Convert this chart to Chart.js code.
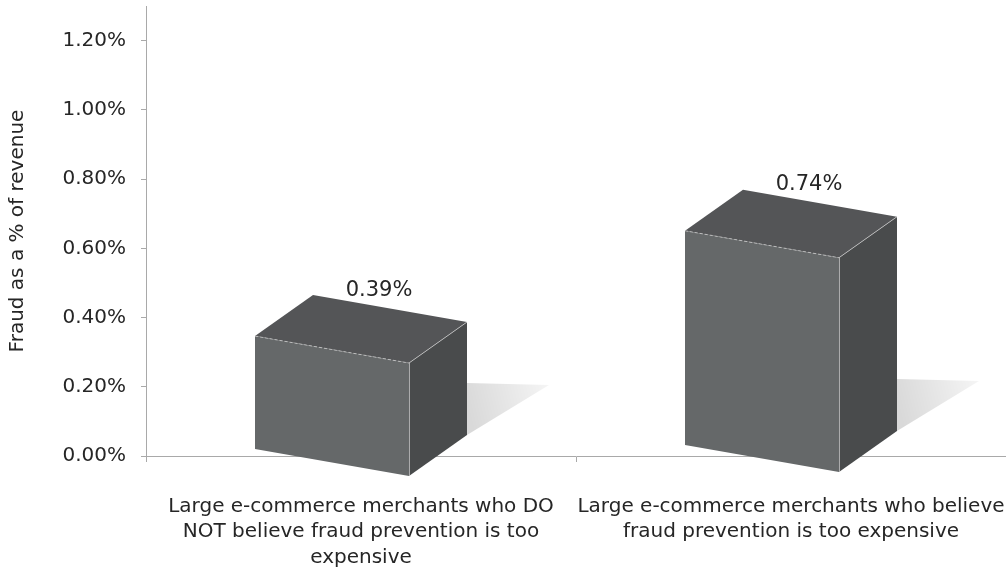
<!DOCTYPE html>
<html>
<head>
<meta charset="utf-8">
<script src="https://cdn.jsdelivr.net/npm/chart.js@4.4.1/dist/chart.umd.min.js"></script>
<style>
  html, body { margin: 0; padding: 0; background: #ffffff; }
  #wrap { width: 1006px; height: 571px; }
</style>
</head>
<body>
<div id="wrap"><canvas id="chart"></canvas></div>
<script>
// Survey categories (multi-line axis labels)
const categories = [
  ['Large e-commerce merchants who DO', 'NOT believe fraud prevention is too', 'expensive'],
  ['Large e-commerce merchants who believe', 'fraud prevention is too expensive']
];
// Fraud as a percentage of revenue
const fraudShare = [0.39, 0.74];
// Value axis tick positions (percent)
const yTickValues = [0, 0.2, 0.4, 0.6, 0.8, 1.0, 1.2];
const yAxisTitle = 'Fraud as a % of revenue';

const FONT = '"DejaVu Sans", sans-serif';
const TEXT = '#262626';
const AXIS_GREY = '#a9a9a9';

// Box faces
const FRONT = '#656869';
const TOP = '#545557';
const SIDE = '#494b4c';
const EDGE = 'rgba(205,205,205,0.75)';

// Keeps the plot area flush with the axes: no extra room for overhanging labels.
function noLabelPadding(scale) {
  scale.paddingLeft = 0;
  scale.paddingRight = 0;
  scale.paddingTop = 0;
  scale.paddingBottom = 0;
}

// Draws each bar as an extruded box with a soft floor shadow and a value label.
const boxPlugin = {
  id: 'box3d',
  afterDatasetsDraw(chart) {
    const ctx = chart.ctx;
    const meta = chart.getDatasetMeta(0);
    const midX = (chart.chartArea.left + chart.chartArea.right) / 2;
    meta.data.forEach((bar, i) => {
      const { x, y, base, width } = bar.getProps(['x', 'y', 'base', 'width'], true);
      const frontW = width * 154 / 212;
      const dx = width - frontW;
      const dy = dx * 41 / 58;
      const skew = frontW * 0.175;
      const tilt = -(x - midX) * 4 / 430;
      const L = x - width / 2;
      const R = x + width / 2;
      const FR = L + frontW;
      const T = y + tilt;
      const B = base + tilt;

      const flT = [L, T], frT = [FR, T + skew], brT = [R, T + skew - dy], blT = [L + dx, T - dy];
      const flB = [L, B], frB = [FR, B + skew], brB = [R, B + skew - dy];

      const poly = (pts, fill) => {
        ctx.beginPath();
        ctx.moveTo(pts[0][0], pts[0][1]);
        for (let k = 1; k < pts.length; k++) ctx.lineTo(pts[k][0], pts[k][1]);
        ctx.closePath();
        ctx.fillStyle = fill;
        ctx.fill();
      };

      ctx.save();
      // floor shadow
      const sTop = [R, brB[1] - 52];
      const sTip = [R + 82, brB[1] - 50];
      const sBot = [R, brB[1]];
      const g = ctx.createLinearGradient(R, brB[1] - 30, sTip[0], sTip[1]);
      g.addColorStop(0, 'rgba(0,0,0,0.15)');
      g.addColorStop(1, 'rgba(0,0,0,0.04)');
      poly([sTop, sTip, sBot], g);

      // faces
      poly([frT, brT, brB, frB], SIDE);
      poly([flT, blT, brT, frT], TOP);
      poly([flT, frT, frB, flB], FRONT);

      // edge highlights
      ctx.lineWidth = 1;
      ctx.strokeStyle = EDGE;
      ctx.beginPath();
      ctx.moveTo(frT[0], frT[1]); ctx.lineTo(brT[0], brT[1]);
      ctx.moveTo(frT[0] + 0.5, frT[1]); ctx.lineTo(frB[0] + 0.5, frB[1]);
      ctx.stroke();
      ctx.setLineDash([3, 2]);
      ctx.beginPath();
      ctx.moveTo(flT[0], flT[1]); ctx.lineTo(frT[0], frT[1]);
      ctx.stroke();
      ctx.setLineDash([]);

      // value label
      ctx.fillStyle = TEXT;
      ctx.font = '21px ' + FONT;
      ctx.textAlign = 'center';
      ctx.textBaseline = 'middle';
      ctx.fillText(fraudShare[i].toFixed(2) + '%', x + 18, blT[1] - 5);
      ctx.restore();
    });
  }
};

new Chart(document.getElementById('chart'), {
  type: 'bar',
  data: {
    labels: categories,
    datasets: [{
      data: fraudShare,
      yAxisID: 'yBox',
      backgroundColor: 'rgba(0,0,0,0)',
      borderWidth: 0,
      categoryPercentage: 1,
      barPercentage: 0.493
    }]
  },
  options: {
    responsive: true,
    maintainAspectRatio: false,
    animation: false,
    devicePixelRatio: 1,
    layout: { padding: { top: 6, right: 0, bottom: 0, left: 0 } },
    plugins: {
      legend: { display: false },
      tooltip: { enabled: false }
    },
    scales: {
      x: {
        offset: true,
        afterFit(scale) { scale.height = 115; noLabelPadding(scale); },
        grid: {
          display: true,
          offset: true,
          drawOnChartArea: false,
          drawTicks: true,
          tickLength: 6,
          color: AXIS_GREY
        },
        border: { display: true, color: AXIS_GREY, width: 1 },
        ticks: {
          color: TEXT,
          font: { family: FONT, size: 20, lineHeight: 1.275 },
          padding: 32,
          maxRotation: 0,
          autoSkip: false
        }
      },
      y: {
        position: 'left',
        min: 0,
        max: 1.3,
        afterFit(scale) { scale.width = 146; noLabelPadding(scale); },
        afterBuildTicks(scale) { scale.ticks = yTickValues.map(v => ({ value: v })); },
        grid: {
          display: true,
          drawOnChartArea: false,
          drawTicks: true,
          tickLength: 5,
          color: AXIS_GREY
        },
        border: { display: true, color: AXIS_GREY, width: 1 },
        ticks: {
          color: TEXT,
          font: { family: FONT, size: 20 },
          padding: 15,
          callback: v => Number(v).toFixed(2) + '%'
        },
        title: {
          display: true,
          text: yAxisTitle,
          color: TEXT,
          font: { family: FONT, size: 20, lineHeight: 1.2 },
          padding: { top: 6, bottom: 0 }
        }
      },
      // depth-foreshortened value scale used for the boxes
      yBox: {
        display: false,
        position: 'left',
        min: -0.0311,
        max: 1.5233,
        afterFit: noLabelPadding
      }
    }
  },
  plugins: [boxPlugin]
});
</script>
</body>
</html>
